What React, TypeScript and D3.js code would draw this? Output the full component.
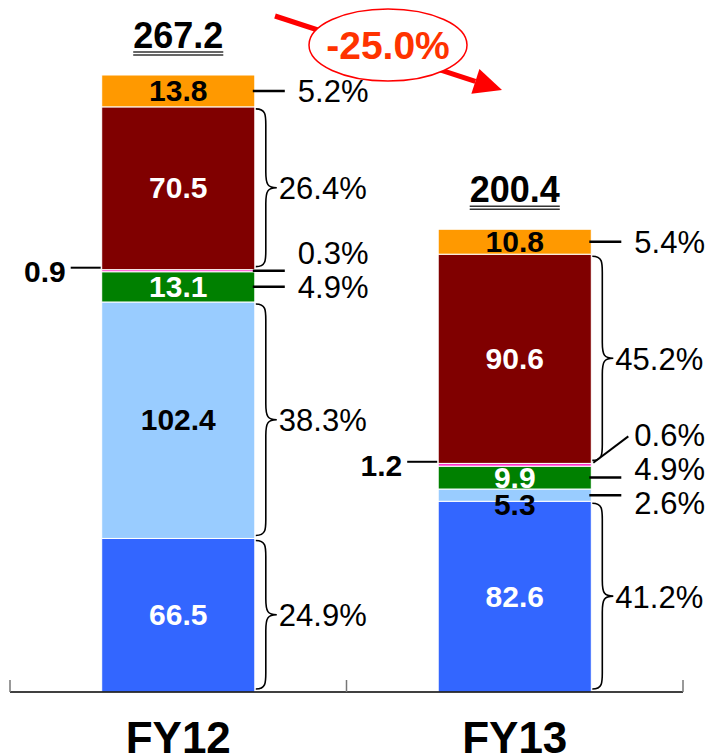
import React from 'react'
import * as d3 from 'd3'

// chart data
const categories = ['FY12', 'FY13']
const seriesKeys = ['blue', 'lightBlue', 'green', 'pink', 'darkRed', 'orange']
const blueValues = [66.5, 82.6]
const lightBlueValues = [102.4, 5.3]
const greenValues = [13.1, 9.9]
const pinkValues = [0.9, 1.2]
const darkRedValues = [70.5, 90.6]
const orangeValues = [13.8, 10.8]
const shareFY12 = [24.9, 38.3, 4.9, 0.3, 26.4, 5.2]
const shareFY13 = [41.2, 2.6, 4.9, 0.6, 45.2, 5.4]
const totals = [267.2, 200.4]
const changeLabel = '-25.0%'

const fills: Record<string, string> = {
  blue: '#3366FF',
  lightBlue: '#99CCFF',
  green: '#008000',
  pink: '#FF33CC',
  darkRed: '#800000',
  orange: '#FF9900'
}
const inkColors: Record<string, string> = {
  blue: '#FFFFFF',
  lightBlue: '#000000',
  green: '#FFFFFF',
  pink: '#000000',
  darkRed: '#FFFFFF',
  orange: '#000000'
}

const FONT = '"Liberation Sans", Arial, Helvetica, sans-serif'
const W = 713
const H = 756
const BASE = 692

const valuesByKey: Record<string, number[]> = {
  blue: blueValues,
  lightBlue: lightBlueValues,
  green: greenValues,
  pink: pinkValues,
  darkRed: darkRedValues,
  orange: orangeValues
}
const shares = [shareFY12, shareFY13]

const rows = categories.map((c, i) => {
  const r: any = { category: c }
  seriesKeys.forEach(k => { r[k] = valuesByKey[k][i] })
  return r
})

function bracePath (x: number, y0: number, y1: number) {
  // y0 top, y1 bottom
  const m = (y0 + y1) / 2
  const half = 10
  const r = Math.min(16, (y1 - y0) / 4)
  const xm = x + half
  return `M${x},${y0} C${xm},${y0} ${xm},${y0 + r * 0.4} ${xm},${y0 + r}` +
    ` L${xm},${m - r} C${xm},${m - 3} ${xm + 2},${m} ${x + 21},${m}` +
    ` C${xm + 2},${m} ${xm},${m + 3} ${xm},${m + r}` +
    ` L${xm},${y1 - r} C${xm},${y1 - r * 0.4} ${xm},${y1} ${x},${y1}`
}

function boldDigitsWidth (s: string, size: number) {
  let w = 0
  for (const ch of s) w += ch === '.' ? 0.278 : 0.556
  return w * size
}

export default function App () {
  const y = d3.scaleLinear().domain([0, totals[0]]).range([BASE, 75])
  const x = d3.scaleBand().domain(categories).range([10, 683])
    .paddingInner(0.545).paddingOuter(0.2725)
  const bw = x.bandwidth()
  const stacked = d3.stack().keys(seriesKeys)(rows)

  const GAP = 34
  const PCT = 31
  const VAL = 30

  const parts: React.ReactNode[] = []

  categories.forEach((cat, ci) => {
    const left = x(cat) as number
    const right = left + bw
    const cx = left + bw / 2
    const segs = stacked.map((s, si) => {
      const d = s[ci]
      const yb = y(d[0])
      const yt = y(d[1])
      return { key: seriesKeys[si], si, yb, yt, h: yb - yt, mid: (yb + yt) / 2, value: valuesByKey[seriesKeys[si]][ci] }
    })

    // bars
    segs.forEach(s => {
      parts.push(
        <rect key={`r-${cat}-${s.key}`} x={left} y={s.yt} width={bw} height={s.h}
          fill={fills[s.key]} stroke='#FFFFFF' strokeWidth={1} />
      )
    })

    // percentage labels: braces for tall segments, leaders for small ones
    const leaders = segs.filter(s => s.h < 60).map(s => ({ ...s, ly: s.mid, thin: s.h < 5 }))
    const normal = leaders.filter(l => !l.thin).sort((a, b) => a.ly - b.ly)
    for (let it = 0; it < 20; it++) {
      for (let i = 0; i < normal.length - 1; i++) {
        const a = normal[i]; const b = normal[i + 1]
        const gap = b.ly - a.ly
        if (gap < GAP) {
          const push = (GAP - gap) / 2
          a.ly -= push; b.ly += push
        }
      }
    }
    leaders.filter(l => l.thin).forEach(l => {
      const below = normal.filter(n => n.ly > l.ly - 1 && n.ly - l.ly < GAP).sort((a, b) => a.ly - b.ly)[0]
      if (below) l.ly = Math.min(l.ly, below.ly - GAP)
    })

    segs.filter(s => s.h >= 60).forEach(s => {
      parts.push(
        <path key={`b-${cat}-${s.key}`} d={bracePath(right + 1, s.yt + 2, s.yb - 3)}
          fill='none' stroke='#000' strokeWidth={1.6} />
      )
      parts.push(
        <text key={`p-${cat}-${s.key}`} x={right + 24} y={s.mid + 11} fontSize={PCT}
          fontFamily={FONT} fill='#000'>{shares[ci][s.si].toFixed(1)}%</text>
      )
    })

    leaders.forEach(l => {
      const diag = Math.abs(l.ly - l.mid) > 20
      if (diag) {
        parts.push(
          <line key={`l-${cat}-${l.key}`} x1={right + 2} y1={l.mid - 2} x2={right + 37} y2={l.ly + 1}
            stroke='#000' strokeWidth={2} />
        )
      } else {
        parts.push(
          <line key={`l-${cat}-${l.key}`} x1={right - 2} y1={l.mid} x2={right + 30} y2={l.mid}
            stroke='#000' strokeWidth={2.5} />
        )
      }
      parts.push(
        <text key={`p-${cat}-${l.key}`} x={right + 43} y={l.ly + 11} fontSize={PCT}
          fontFamily={FONT} fill='#000'>{shares[ci][l.si].toFixed(1)}%</text>
      )
    })

    // value labels
    segs.forEach(s => {
      if (s.h >= 18) {
        parts.push(
          <text key={`v-${cat}-${s.key}`} x={cx} y={s.mid + 10} textAnchor='middle' fontSize={VAL}
            fontWeight='bold' fontFamily={FONT} fill={inkColors[s.key]}>{s.value.toFixed(1)}</text>
        )
      } else if (s.h >= 5) {
        parts.push(
          <text key={`v-${cat}-${s.key}`} x={cx} y={s.yb + 14} textAnchor='middle' fontSize={VAL}
            fontWeight='bold' fontFamily={FONT} fill={inkColors[s.key]}>{s.value.toFixed(1)}</text>
        )
      } else {
        parts.push(
          <line key={`vl-${cat}-${s.key}`} x1={left - 31} y1={s.mid - 3} x2={left - 1} y2={s.mid - 3}
            stroke='#000' strokeWidth={2} />
        )
        parts.push(
          <text key={`v-${cat}-${s.key}`} x={left - 36} y={s.mid + 11} textAnchor='end' fontSize={VAL}
            fontWeight='bold' fontFamily={FONT} fill='#000'>{s.value.toFixed(1)}</text>
        )
      }
    })

    // total with double underline
    const top = y(totals[ci])
    const tStr = totals[ci].toFixed(1)
    const tw = boldDigitsWidth(tStr, 36)
    parts.push(
      <text key={`t-${cat}`} x={cx} y={top - 27} textAnchor='middle' fontSize={36}
        fontWeight='bold' fontFamily={FONT} fill='#000'>{tStr}</text>
    )
    parts.push(
      <line key={`u1-${cat}`} x1={cx - tw / 2} x2={cx + tw / 2} y1={top - 23} y2={top - 23}
        stroke='#333' strokeWidth={1.5} />
    )
    parts.push(
      <line key={`u2-${cat}`} x1={cx - tw / 2} x2={cx + tw / 2} y1={top - 20} y2={top - 20}
        stroke='#333' strokeWidth={1.5} />
    )

    // category label
    parts.push(
      <text key={`c-${cat}`} x={cx} y={753} textAnchor='middle' fontSize={44}
        fontWeight='bold' fontFamily={FONT} fill='#000'>{cat}</text>
    )
  })

  // axis
  const step = x.step()
  const tickXs = d3.range(categories.length + 1).map(i => 10 + i * step)

  // change arrow
  const a0: [number, number] = [275, 16]
  const tip: [number, number] = [502, 90]
  const len = Math.hypot(tip[0] - a0[0], tip[1] - a0[1])
  const ux = (tip[0] - a0[0]) / len
  const uy = (tip[1] - a0[1]) / len
  const bx = tip[0] - ux * 28
  const by = tip[1] - uy * 28
  const head = `${tip[0]},${tip[1]} ${bx - uy * 13},${by + ux * 13} ${bx + uy * 13},${by - ux * 13}`

  return (
    <svg width={W} height={H} style={{ position: 'absolute', left: 0, top: 0, background: '#fff' }}>
      <rect width={W} height={H} fill='#fff' />
      {parts}
      <line x1={10} x2={683} y1={BASE} y2={BASE} stroke='#000' strokeWidth={1.5} />
      {tickXs.map((tx, i) => (
        <line key={`tk${i}`} x1={tx} x2={tx} y1={BASE - 12} y2={BASE} stroke='#777' strokeWidth={1.5} />
      ))}
      <line x1={a0[0]} y1={a0[1]} x2={bx} y2={by} stroke='#FF0000' strokeWidth={5} />
      <polygon points={head} fill='#FF0000' />
      <ellipse cx={388} cy={45} rx={79} ry={36} fill='#fff' stroke='#FF0000' strokeWidth={1.5} />
      <text x={388} y={59} textAnchor='middle' fontSize={39} fontWeight='bold'
        fontFamily={FONT} fill='#FF3300'>{changeLabel}</text>
    </svg>
  )
}
